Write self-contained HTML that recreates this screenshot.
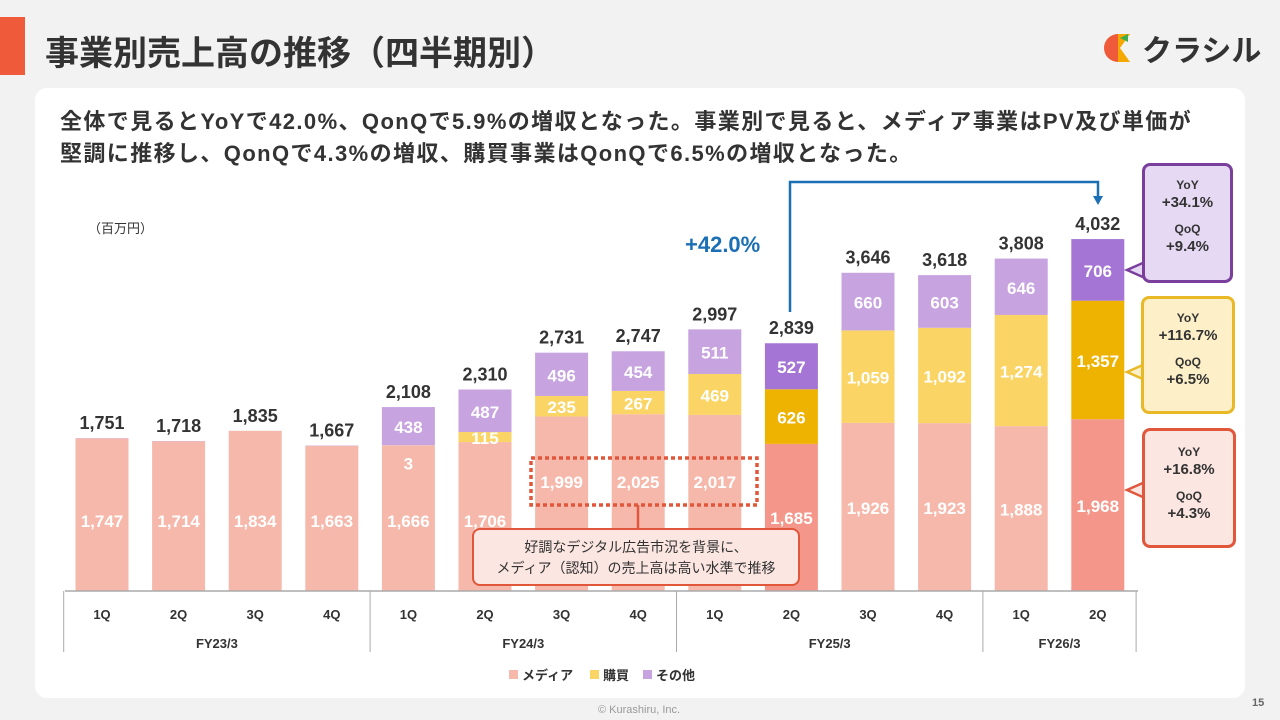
<!DOCTYPE html>
<html><head><meta charset="utf-8">
<style>
body{margin:0;width:1280px;height:720px;background:#f2f2f2;font-family:"Liberation Sans","Noto Sans CJK JP",sans-serif;position:relative;overflow:hidden}
.abs{position:absolute}
</style></head><body>
<div class="abs" style="left:0;top:17px;width:25px;height:58px;background:#ee5a3a"></div>
<div class="abs" style="left:45px;top:26px;font-size:34px;font-weight:bold;color:#333">事業別売上高の推移（四半期別）</div>
<div class="abs" style="left:1100px;top:28px;height:40px;display:flex;align-items:center">
<svg width="36" height="36" viewBox="0 0 36 36"><path d="M4 18a14 14 0 0 1 14-14v28A14 14 0 0 1 4 18z" fill="#ee5a3a"/><path d="M18 4l12 0-10 14 10 14h-12z" fill="#f5a800"/><path d="M20 8l8-4 0 8z" fill="#3dae4a"/></svg>
<span style="font-size:30px;font-weight:bold;color:#333;margin-left:6px">クラシル</span></div>
<div class="abs" style="left:35px;top:88px;width:1210px;height:610px;background:#fff;border-radius:12px"></div>
<div class="abs" style="left:60px;top:106px;font-size:22px;letter-spacing:1.4px;font-weight:bold;color:#333;line-height:32px;white-space:nowrap">全体で見るとYoYで42.0%、QonQで5.9%の増収となった。事業別で見ると、メディア事業はPV及び単価が<br>堅調に推移し、QonQで4.3%の増収、購買事業はQonQで6.5%の増収となった。</div>
<div class="abs" style="left:88px;top:218px;font-size:13px;color:#333">（百万円）</div>
<div class="abs" style="left:1252px;top:697px;font-size:11px;color:#666;font-weight:bold">15</div>
<div class="abs" style="left:598px;top:704px;font-size:11px;color:#999">© Kurashiru, Inc.</div>
<svg id="chart" class="abs" style="left:0;top:0" width="1280" height="720"></svg>
<div class="abs" style="left:685px;top:232px;font-size:22px;font-weight:bold;color:#1a6fb5">+42.0%</div>
<div class="abs" style="left:472px;top:528px;width:328px;height:58px;border:2.5px solid #e0573c;border-radius:8px;background:#fbe6e1;font-size:14px;color:#333;text-align:center;line-height:21px;padding-top:7px;box-sizing:border-box">好調なデジタル広告市況を背景に、<br>メディア（認知）の売上高は高い水準で推移</div>
<div class="abs" style="left:1142px;top:163px;width:91px;height:120px;border:3px solid #7a3e9d;border-radius:8px;background:#e6d9f3;box-sizing:border-box;text-align:center;font-weight:bold;color:#333;font-size:12px;line-height:18px;padding-top:10px">YoY<br><span style="font-size:15px">+34.1%</span><br><div style="height:8px"></div>QoQ<br><span style="font-size:15px">+9.4%</span></div>
<div class="abs" style="left:1141px;top:296px;width:94px;height:118px;border:3px solid #e9b826;border-radius:8px;background:#fdf0c8;box-sizing:border-box;text-align:center;font-weight:bold;color:#333;font-size:12px;line-height:18px;padding-top:10px">YoY<br><span style="font-size:15px">+116.7%</span><br><div style="height:8px"></div>QoQ<br><span style="font-size:15px">+6.5%</span></div>
<div class="abs" style="left:1142px;top:428px;width:94px;height:120px;border:3px solid #e0573c;border-radius:8px;background:#fbe6e1;box-sizing:border-box;text-align:center;font-weight:bold;color:#333;font-size:12px;line-height:18px;padding-top:12px">YoY<br><span style="font-size:15px">+16.8%</span><br><div style="height:8px"></div>QoQ<br><span style="font-size:15px">+4.3%</span></div>
<script>
const categories=["1Q","2Q","3Q","4Q","1Q","2Q","3Q","4Q","1Q","2Q","3Q","4Q","1Q","2Q"];
const fiscalYears=["FY23/3","FY24/3","FY25/3","FY26/3"];
const fySizes=[4,4,4,2];
const media=[1747,1714,1834,1663,1666,1706,1999,2025,2017,1685,1926,1923,1888,1968];
const purchase=[0,0,0,0,3,115,235,267,469,626,1059,1092,1274,1357];
const other=[4,4,1,4,438,487,496,454,511,527,660,603,646,706];
const totals=[1751,1718,1835,1667,2108,2310,2731,2747,2997,2839,3646,3618,3808,4032];
const highlight=[false,false,false,false,false,false,false,false,false,true,false,false,false,true];
const svg=document.getElementById('chart');
const NS='http://www.w3.org/2000/svg';
const baseY=591,scale=352/4032,x0=102,step=76.6,bw=53,left=65;
const xc=i=>x0+i*step;
const y=v=>baseY-v*scale;
function mk(t,a,txt){const e=document.createElementNS(NS,t);for(const k in a)e.setAttribute(k,a[k]);if(txt!==undefined)e.textContent=txt;svg.appendChild(e);return e;}
function fmt(v){return v.toLocaleString('en-US');}
categories.forEach((c,i)=>{
  const segs=[[media[i],highlight[i]?'#f4978a':'#f6b8ab'],[purchase[i],highlight[i]?'#eeb200':'#fad565'],[other[i],highlight[i]?'#a475d4':'#c7a3e0']];
  let acc=0;
  segs.forEach((s,k)=>{
    const r=mk('rect',{x:xc(i)-bw/2,y:y(acc+s[0]),width:bw,height:s[0]*scale,fill:s[1]});
    
    
    if(s[0]>=3 && (k===0||s[0]>50||i===4)){
      let ty=y(acc+s[0]/2)+7;
      if(k===0) ty=(i>=6&&i<=8)?488:(i===9?524:(i>=10?y(s[0]/2)+7:527));
      if(k===1&&i===4) ty=y(acc+s[0])+24;
      const t=mk('text',{x:xc(i),y:ty,'text-anchor':'middle','font-size':17,'font-weight':'bold',fill:'#fff'},fmt(s[0]));
      
      
    }
    acc+=s[0];
  });
  const tl=mk('text',{x:xc(i),y:y(totals[i])-9,'text-anchor':'middle','font-size':18,'font-weight':'bold',fill:'#333'},fmt(totals[i]));
  
  
  const cl=mk('text',{x:xc(i),y:619,'text-anchor':'middle','font-size':13,'font-weight':'bold',fill:'#333'},c);
  
  
});
const ax=mk('line',{x1:left,y1:baseY,x2:1138,y2:baseY,stroke:'#aaa','stroke-width':1.5});


let idx=0;
fiscalYears.forEach((f,j)=>{
  const xs=xc(idx)-step/2, xe=xc(idx+fySizes[j]-1)+step/2;
  const d=mk('line',{x1:xs,y1:baseY,x2:xs,y2:652,stroke:'#aaa','stroke-width':1});
  
  
  const t=mk('text',{x:(xs+xe)/2,y:648,'text-anchor':'middle','font-size':13,'font-weight':'bold',fill:'#333'},f);
  
  
  idx+=fySizes[j];
  if(j===fiscalYears.length-1){const e=mk('line',{x1:xe,y1:baseY,x2:xe,y2:652,stroke:'#aaa','stroke-width':1});}
});
const leg=[["メディア","#f6b8ab"],["購買","#fad565"],["その他","#c7a3e0"]];
let lx=509;
leg.forEach((l,k)=>{
  const r=mk('rect',{x:lx,y:670,width:9,height:9,fill:l[1]});
  
  
  const t=mk('text',{x:lx+13,y:680,'font-size':13,'font-weight':'bold',fill:'#333'},l[0]);
  
  
  lx+= [81,53,0][k];
});
const c=mk('path',{d:'M790 312 V182 H1098 V198',fill:'none',stroke:'#1a6fb5','stroke-width':2.5});


const ar=mk('path',{d:'M1093 196 L1103 196 L1098 205 Z',fill:'#1a6fb5'});


const db=mk('rect',{x:531,y:458,width:226,height:47,fill:'none',stroke:'#e0573c','stroke-width':3.5,'stroke-dasharray':'4 3'});


const dl=mk('line',{x1:638,y1:505,x2:638,y2:530,stroke:'#e0573c','stroke-width':2.5});


[['#7a3e9d','#e6d9f3',270],['#e9b826','#fdf0c8',372],['#e0573c','#fbe6e1',490]].forEach(p=>{
  const t=mk('path',{d:`M1145 ${p[2]-8} L1127 ${p[2]} L1145 ${p[2]+8}`,fill:p[1],stroke:p[0],'stroke-width':2.5});
  
  
});
</script>
</body></html>
